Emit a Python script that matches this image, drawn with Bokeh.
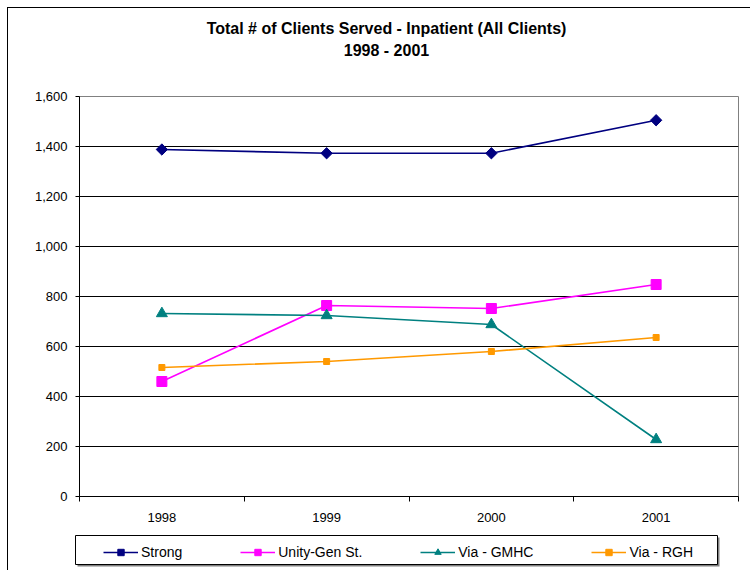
import math
from bokeh.plotting import figure
from bokeh.layouts import column
from bokeh.models import (Legend, LegendItem, FixedTicker, NumeralTickFormatter,
                          Label, Range1d, BoxAnnotation, InlineStyleSheet)
from bokeh.embed import file_html
from bokeh.resources import INLINE

years = ["1998", "1999", "2000", "2001"]
strong = [1388, 1373, 1373, 1505]
unity = [460, 764, 752, 848]
gmhc = [732, 724, 688, 228]
rgh = [516, 540, 580, 636]
y_ticks = [0, 200, 400, 600, 800, 1000, 1200, 1400, 1600]
title_lines = ["Total # of Clients Served - Inpatient (All Clients)", "1998 - 2001"]

xs = list(range(1, len(years) + 1))
FONT = "Liberation Sans"
W = 750

ALIGN_OFF = True


def blank(h):
    global ALIGN_OFF
    f = figure(width=W, height=h, output_backend="svg", toolbar_location=None,
               x_axis_type=None, y_axis_type=None, min_border=0)
    try:
        f.frame_align = False
    except Exception:
        ALIGN_OFF = False
    if ALIGN_OFF:
        f.x_range = Range1d(0, W)
    else:
        f.x_range = Range1d(79, 738)
    f.y_range = Range1d(h, 0)
    f.outline_line_color = None
    f.xgrid.visible = False
    f.ygrid.visible = False
    f.background_fill_color = None
    f.border_fill_color = None
    return f


# ---- title strip ----
tf = blank(86)
for i, txt in enumerate(title_lines):
    tf.add_layout(Label(x=386, y=28 + 22 * i, text=txt, text_align="center",
                        text_baseline="middle", text_font=FONT,
                        text_font_size="16px", text_font_style="bold",
                        text_color="black"))

# ---- main plot ----
p = figure(width=W, height=444, output_backend="svg", toolbar_location=None,
           x_range=Range1d(0.5, len(years) + 0.5), y_range=Range1d(0, 1600),
           min_border_left=79, min_border_right=12, min_border_top=10,
           min_border_bottom=34, title=None)
p.background_fill_color = "white"
p.border_fill_color = None
p.outline_line_color = "#808080"
p.outline_line_width = 1

p.xaxis.ticker = FixedTicker(ticks=xs, minor_ticks=[x - 0.5 for x in xs] + [xs[-1] + 0.5])
p.xaxis.major_label_overrides = {x: y for x, y in zip(xs, years)}
p.xaxis.major_tick_line_color = None
p.xaxis.major_tick_out = 5
p.xaxis.minor_tick_line_color = "black"
p.xaxis.minor_tick_in = 0
p.xaxis.minor_tick_out = 5
p.xaxis.axis_line_color = "black"
p.xaxis.major_label_text_font = FONT
p.xaxis.major_label_text_font_size = "13px"
p.xaxis.major_label_text_color = "black"
p.xaxis.major_label_standoff = 11
p.xgrid.grid_line_color = None

p.yaxis.ticker = FixedTicker(ticks=y_ticks, minor_ticks=[])
p.yaxis.formatter = NumeralTickFormatter(format="0,0")
p.yaxis.major_tick_in = 0
p.yaxis.major_tick_out = 4
p.yaxis.major_tick_line_color = "black"
p.yaxis.axis_line_color = "black"
p.yaxis.major_label_text_font = FONT
p.yaxis.major_label_text_font_size = "13px"
p.yaxis.major_label_text_color = "black"
p.yaxis.major_label_standoff = 8
p.ygrid.grid_line_color = "black"
p.ygrid.grid_line_width = 1
p.ygrid.ticker = FixedTicker(ticks=y_ticks)

series = [
    ("Strong", strong, "#000080", "square", 8, math.pi / 4),
    ("Unity-Gen St.", unity, "#FF00FF", "square", 10, 0),
    ("Via - GMHC", gmhc, "#008080", "triangle", 11, 0),
    ("Via - RGH", rgh, "#FF9900", "square", 6, 0),
]
for name, vals, col, mk, sz, ang in series:
    p.line(xs, vals, line_color=col, line_width=1.6)
    p.scatter(xs, vals, marker=mk, size=sz, angle=ang, fill_color=col, line_color=col)

# ---- legend strip ----
lf = blank(40)
lf.add_layout(BoxAnnotation(left=77, right=719, top=7, bottom=36,
                            fill_color="#808080", fill_alpha=1, line_color=None))
lf.add_layout(BoxAnnotation(left=75, right=717, top=5, bottom=34,
                            fill_color="white", fill_alpha=1,
                            line_color="black", line_width=1, line_alpha=1))
items = []
for name, vals, col, mk, sz, ang in series:
    r1 = lf.line(xs, vals, line_color=col, line_width=1.6)
    r2 = lf.scatter(xs, vals, marker=mk, size=sz, angle=ang,
                    fill_color=col, line_color=col)
    items.append(LegendItem(label=name, renderers=[r1, r2]))
legend = Legend(items=items, orientation="horizontal",
                location=(103 if ALIGN_OFF else 24, 10),
                border_line_color=None, background_fill_alpha=0,
                label_text_font=FONT, label_text_font_size="14px",
                label_text_color="black",
                glyph_width=35, glyph_height=16, label_standoff=3,
                spacing=58, padding=6, margin=0)
lf.add_layout(legend, "center")

layout = column(tf, p, lf, spacing=0)
layout.stylesheets = [InlineStyleSheet(css=(
    ":host { position: relative; }"
    ":host::after { content: ''; position: absolute; left: 7px; top: 7px; "
    "right: 0px; bottom: 0px; border-left: 1px solid black; "
    "border-top: 1px solid black; pointer-events: none; }"))]

open("out.html", "w").write(file_html(layout, INLINE))
